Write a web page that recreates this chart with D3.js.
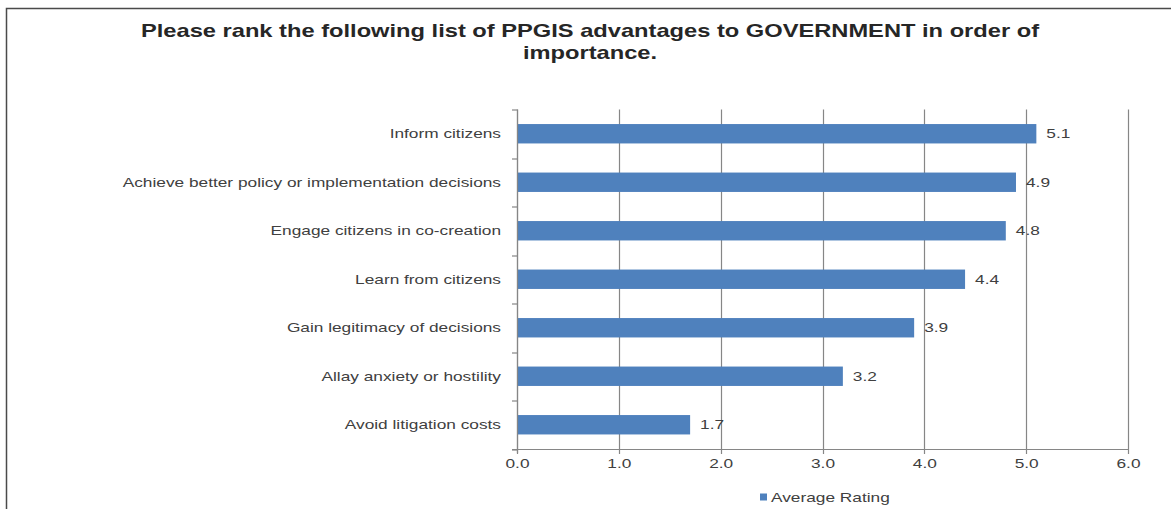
<!DOCTYPE html>
<html>
<head>
<meta charset="utf-8">
<script src="https://cdn.jsdelivr.net/npm/d3@7"></script>
<style>
  html, body { margin: 0; padding: 0; background: #fff; }
  svg { display: block; }
  text { font-family: "Liberation Sans", Arial, sans-serif; }
</style>
</head>
<body>
<svg id="chart" width="1171" height="509"></svg>
<script>
// Survey answers, top row first
const categories = [
  "Inform citizens",
  "Achieve better policy or implementation decisions",
  "Engage citizens in co-creation",
  "Learn from citizens",
  "Gain legitimacy of decisions",
  "Allay anxiety or hostility",
  "Avoid litigation costs"
];
const averageRating = [5.1, 4.9, 4.8, 4.4, 3.9, 3.2, 1.7];
const xTicks = [0, 1, 2, 3, 4, 5, 6];
const seriesName = "Average Rating";
const titleLines = [
  "Please rank the following list of PPGIS advantages to GOVERNMENT in order of",
  "importance."
];

const svg = d3.select("#chart");
const W = 1171, H = 509;
const margin = { left: 517, right: 43, top: 109.5, bottom: 60 };
const plotW = W - margin.left - margin.right;
const plotH = H - margin.top - margin.bottom;

const barColor = "#4f81bd";
const gridColor = "#868686";
const textColor = "#404040";
const stretch = 1.28; // wide, horizontally stretched lettering

// place a text at (x, y) with the horizontal stretch applied around its anchor
const at = (x, y) => `translate(${x},${y}) scale(${stretch},1)`;

// outer frame
svg.append("rect")
  .attr("x", 6.5).attr("y", 8.5)
  .attr("width", W + 10).attr("height", H + 10)
  .attr("fill", "none").attr("stroke", "#4a4a4a").attr("stroke-width", 1.5);

// title
svg.append("g").selectAll("text").data(titleLines).join("text")
  .attr("transform", (d, i) => at(590, 37 + i * 22))
  .attr("text-anchor", "middle")
  .attr("font-size", 18.5).attr("font-weight", "bold")
  .attr("fill", "#262626")
  .text(d => d);

const x = d3.scaleLinear().domain([0, 6]).range([0, plotW]);
const y = d3.scaleBand().domain(categories).range([0, plotH]).paddingInner(0.6).paddingOuter(0.3);
const yEdges = d3.scaleLinear().domain([0, categories.length]).range([0, plotH]);

const g = svg.append("g").attr("transform", `translate(${margin.left},${margin.top})`);

// vertical gridlines, reaching below the axis as tick marks
g.append("g").selectAll("line").data(xTicks).join("line")
  .attr("x1", d => Math.round(x(d)) + 0.5).attr("x2", d => Math.round(x(d)) + 0.5)
  .attr("y1", 0).attr("y2", plotH + 5)
  .attr("stroke", gridColor).attr("stroke-width", 1.2);

// bars
g.append("g").selectAll("rect").data(categories).join("rect")
  .attr("x", 1)
  .attr("y", d => y(d))
  .attr("width", (d, i) => x(averageRating[i]) - 1)
  .attr("height", y.bandwidth())
  .attr("fill", barColor);

// value labels
g.append("g").selectAll("text").data(categories).join("text")
  .attr("transform", (d, i) => at(x(averageRating[i]) + 10, y(d) + y.bandwidth() / 2))
  .attr("dy", "0.35em")
  .attr("font-size", 13.5).attr("fill", textColor)
  .text((d, i) => d3.format(".1f")(averageRating[i]));

// category axis
g.append("line")
  .attr("x1", 0.5).attr("x2", 0.5).attr("y1", 0).attr("y2", plotH + 4)
  .attr("stroke", gridColor).attr("stroke-width", 1.2);
g.append("g").selectAll("line").data(d3.range(categories.length + 1)).join("line")
  .attr("x1", -5).attr("x2", 0)
  .attr("y1", d => Math.round(yEdges(d)) + 0.5).attr("y2", d => Math.round(yEdges(d)) + 0.5)
  .attr("stroke", gridColor).attr("stroke-width", 1.2);
g.append("g").selectAll("text").data(categories).join("text")
  .attr("transform", d => at(-16, y(d) + y.bandwidth() / 2))
  .attr("dy", "0.35em")
  .attr("text-anchor", "end")
  .attr("font-size", 13.5).attr("fill", textColor)
  .text(d => d);

// value axis
const xAxis = g.append("g").attr("transform", `translate(0,${plotH})`)
  .call(d3.axisBottom(x).tickValues(xTicks).tickFormat(d3.format(".1f")).tickSize(0).tickPadding(9));
xAxis.select(".domain").remove();
xAxis.append("line")
  .attr("x1", -5).attr("x2", plotW).attr("y1", 0.5).attr("y2", 0.5)
  .attr("stroke", gridColor).attr("stroke-width", 1.2);
xAxis.selectAll(".tick text")
  .attr("transform", `scale(${stretch},1)`)
  .attr("font-family", "Liberation Sans, Arial, sans-serif")
  .attr("font-size", 13.5).attr("fill", textColor);

// legend
const legend = svg.append("g").attr("transform", "translate(760,497)");
legend.append("rect").attr("x", 0).attr("y", -3.5).attr("width", 7).attr("height", 7).attr("fill", barColor);
legend.append("text").attr("transform", at(11, 0)).attr("dy", "0.35em")
  .attr("font-size", 13.5).attr("fill", textColor).text(seriesName);
</script>
</body>
</html>
